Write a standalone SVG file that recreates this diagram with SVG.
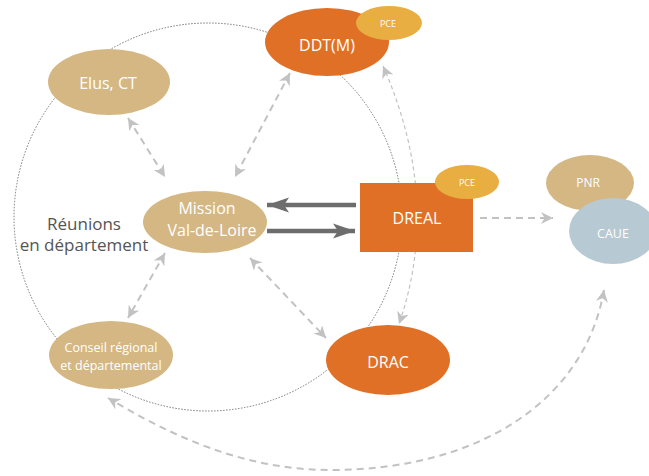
<svg xmlns="http://www.w3.org/2000/svg" width="649" height="476" viewBox="0 0 649 476">
<style>
.lbl{font-family:"Open Sans","Liberation Sans",sans-serif;fill:#fff;text-anchor:middle;dominant-baseline:central}
.tan{fill:#d4b783}
.org{fill:#e07026}
.pce{fill:#e8ae42}
.dash{fill:none;stroke:#c2c2c2;stroke-width:2;stroke-dasharray:7 5}
.thin{fill:none;stroke:#c2c2c2;stroke-width:1.2;stroke-dasharray:4 3}
.thick{fill:none;stroke:#6d6d6d;stroke-width:4.5}
</style>
<defs>
<marker id="ah" markerUnits="userSpaceOnUse" markerWidth="12" markerHeight="12" refX="10" refY="5" viewBox="0 0 10 10" orient="auto-start-reverse">
<path d="M0,0 L10,5 L0,10 L3,5 z" fill="#c2c2c2"/>
</marker>
<marker id="ahd" markerUnits="userSpaceOnUse" markerWidth="22" markerHeight="16" refX="22" refY="8" viewBox="0 0 22 16" orient="auto">
<path d="M0,0.5 L22,8 L0,15.5 L5,8 z" fill="#6d6d6d"/>
</marker>
</defs>
<circle cx="208" cy="217" r="194" fill="none" stroke="#777" stroke-width="1" stroke-dasharray="1.5 1.5"/>
<g id="connectors">
<line class="dash" x1="128" y1="118" x2="165" y2="177" marker-start="url(#ah)" marker-end="url(#ah)"/>
<line class="dash" x1="290" y1="73" x2="235" y2="177" marker-start="url(#ah)" marker-end="url(#ah)"/>
<line class="dash" x1="165" y1="253" x2="128" y2="318" marker-start="url(#ah)" marker-end="url(#ah)"/>
<line class="dash" x1="250" y1="258" x2="326" y2="338" marker-start="url(#ah)" marker-end="url(#ah)"/>
<line class="dash" x1="480" y1="218" x2="553" y2="218" stroke-width="1.5" marker-end="url(#ah)"/>
<path class="thin" d="M383,66 Q442,200 399,324" marker-start="url(#ah)" marker-end="url(#ah)"/>
<path class="dash" d="M604,290 C585,400 480,470 330,470 C240,470 165,432 108,398" marker-start="url(#ah)" marker-end="url(#ah)"/>
<line class="thick" x1="356" y1="205" x2="267" y2="205" marker-end="url(#ahd)"/>
<line class="thick" x1="267" y1="231" x2="355" y2="231" marker-end="url(#ahd)"/>
</g>
<g id="elus">
<ellipse class="tan" cx="109" cy="82" rx="61" ry="33"/>
<text class="lbl" x="108" y="83" font-size="16">Elus, CT</text>
</g>
<g id="ddtm">
<ellipse class="org" cx="327" cy="42" rx="62" ry="34"/>
<text class="lbl" x="327" y="45" font-size="16">DDT(M)</text>
<ellipse class="pce" cx="389" cy="23" rx="33" ry="17"/>
<text class="lbl" x="388" y="23" font-size="9">PCE</text>
</g>
<g id="mission">
<ellipse class="tan" cx="205" cy="222" rx="62" ry="31"/>
<text class="lbl" x="207" y="208" font-size="16">Mission</text>
<text class="lbl" x="212" y="230" font-size="16">Val-de-Loire</text>
</g>
<g id="reunions">
<text x="84" y="223" font-family="Open Sans,Liberation Sans,sans-serif" font-size="17" fill="#555" text-anchor="middle" dominant-baseline="central">Réunions</text>
<text x="84" y="244" font-family="Open Sans,Liberation Sans,sans-serif" font-size="17" fill="#555" text-anchor="middle" dominant-baseline="central">en département</text>
</g>
<g id="dreal">
<rect class="org" x="360" y="183" width="113" height="69"/>
<text class="lbl" x="417" y="218" font-size="16">DREAL</text>
<ellipse class="pce" cx="467" cy="182" rx="32" ry="17"/>
<text class="lbl" x="467" y="182" font-size="9">PCE</text>
</g>
<g id="pnr">
<ellipse class="tan" cx="590" cy="183" rx="44" ry="28"/>
<text class="lbl" x="588" y="182" font-size="12">PNR</text>
</g>
<g id="caue">
<ellipse fill="#b7c9d3" cx="613" cy="231" rx="44" ry="33"/>
<text class="lbl" x="613" y="233" font-size="12.5">CAUE</text>
</g>
<g id="conseil">
<ellipse class="tan" cx="111" cy="355" rx="62" ry="34"/>
<text class="lbl" x="111" y="347" font-size="12.5">Conseil régional</text>
<text class="lbl" x="111" y="365" font-size="12.5">et départemental</text>
</g>
<g id="drac">
<ellipse class="org" cx="388" cy="360" rx="62" ry="35"/>
<text class="lbl" x="388" y="362" font-size="16">DRAC</text>
</g>
</svg>
